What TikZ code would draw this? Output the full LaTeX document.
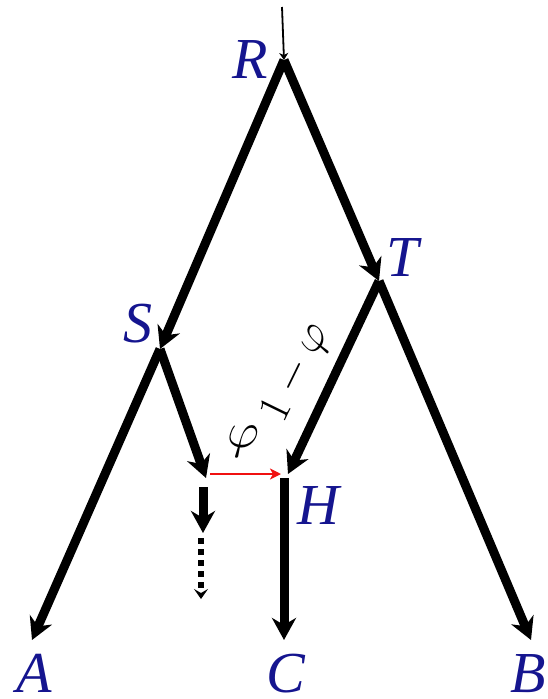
\documentclass[tikz,border=0pt]{standalone}
\usepackage{fontspec}
\setmainfont{Liberation Serif}
\usetikzlibrary{arrows.meta, positioning}
\definecolor{labelblue}{HTML}{15158F}
\definecolor{flowred}{HTML}{F01010}

\begin{document}
\begin{tikzpicture}[x=1pt, y=-1pt]
    \begin{scope}[
        branch/.style={line width=9pt, -{Stealth[length=22pt, width=24pt, inset=7pt]}},
        rootline/.style={line width=1.8pt, -{Stealth[length=7pt, width=9pt, inset=2pt]}},
        dotbranch/.style={line width=5.5pt, dash pattern=on 6pt off 5pt, -{Stealth[length=10pt, width=14pt, inset=4pt]}},
        flow/.style={line width=2.5pt, draw=flowred, -{Stealth[length=11pt, width=11pt, inset=3pt]}},
        taxon/.style={font=\fontsize{58}{60}\selectfont\itshape\color{labelblue}, inner sep=0pt, anchor=base},
        weight/.style={font=\fontsize{20}{24}\selectfont, scale=2.4, inner sep=0pt}
    ]
        \useasboundingbox (0, 0) rectangle (548, 699);

        % ================= branch points =================
        \coordinate (top) at (282, 7);
        \coordinate (R) at (284, 60);
        \coordinate (T) at (379, 281);
        \coordinate (S) at (160, 349);
        \coordinate (Send) at (206, 478);
        \coordinate (Hend) at (288, 474);
        \coordinate (Hstart) at (284, 478);
        \coordinate (Aend) at (32, 640);
        \coordinate (Cend) at (284, 640);
        \coordinate (Bend) at (531, 640);
        \coordinate (Sd1) at (203, 487);
        \coordinate (Sd2) at (203, 533);
        \coordinate (Sd3) at (201, 538);
        \coordinate (Sd4) at (201, 599);
        \coordinate (flowstart) at (210, 474);
        \coordinate (flowend) at (281, 474);

        % ================= tree =================
        \draw[rootline] (top) -- (R);
        \draw[branch] (R) -- (T);
        \draw[branch] (R) -- (S);
        \draw[branch] (S) -- (Aend);
        \draw[branch] (S) -- (Send);
        \draw[branch] (T) -- (Bend);
        \draw[branch] (T) -- (Hend);
        \draw[branch] (Hstart) -- (Cend);
        \draw[branch] (Sd1) -- (Sd2);
        \draw[dotbranch] (Sd3) -- (Sd4);
        \draw[flow] (flowstart) -- (flowend);

        % ================= labels =================
        \node[taxon] (lR) at (250, 78) {R};
        \node[taxon] (lT) at (403, 276) {T};
        \node[taxon] (lS) at (138, 342) {S};
        \node[taxon] (lH) at (318, 524) {H};
        \node[taxon] (lA) at (34, 692) {A};
        \node[taxon] (lC) at (286, 692) {C};
        \node[taxon] (lB) at (528, 692) {B};
        \node[weight] (lphi) at (243, 442) {$\varphi$};
        \node[weight, scale=0.9, rotate=64] (lrest) at (297, 373) {$1-\varphi$};
    \end{scope}
\end{tikzpicture}
\end{document}
